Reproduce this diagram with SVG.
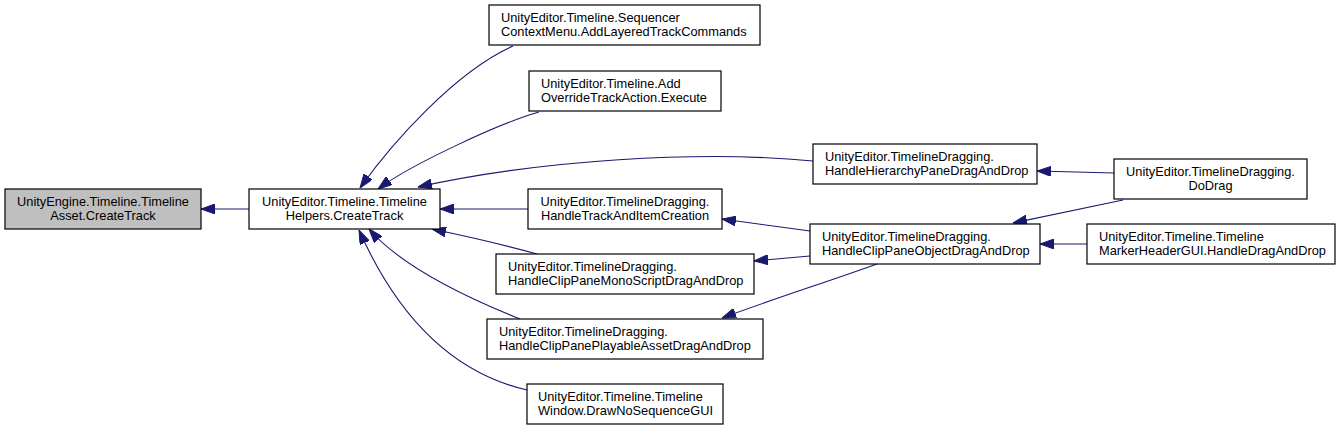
<svg xmlns="http://www.w3.org/2000/svg" width="1340" height="431" viewBox="0 0 1340 431">
<style>
.node rect{fill:#ffffff;stroke:#000000;stroke-width:1.2}
.node.root rect{fill:#bfbfbf}
.node text{font-family:"Liberation Sans",Arial,sans-serif;font-size:12.8px;fill:#000000}
.c{text-anchor:middle}
.l{text-anchor:start}
#edges path{fill:none;stroke:#191970;stroke-width:1.1;marker-end:url(#arr)}
</style>
<defs>
<marker id="arr" viewBox="0 0 14 10" refX="14" refY="5" markerWidth="14" markerHeight="10" markerUnits="userSpaceOnUse" orient="auto">
<path d="M0,0 L14,5 L0,10 Z" fill="#191970" stroke="#191970" stroke-width="1"/>
</marker>
</defs>
<rect x="0" y="0" width="1340" height="431" fill="#ffffff"/>
<g id="edges">
<path d="M249,209 L201,209"/>
<path d="M513,46 C455,72 392,143 360,188"/>
<path d="M539,112 C500,123 410,165 378,189"/>
<path d="M813,161 C700,150 540,160 418,187"/>
<path d="M528,209 L440,209"/>
<path d="M537,254 C505,245 470,237 432,229"/>
<path d="M520,319 C460,295 400,265 369,229"/>
<path d="M527,390 C440,370 390,300 359,230"/>
<path d="M1114,173 L1037,171"/>
<path d="M1123,200 L1013,223"/>
<path d="M1087,244 L1040,244"/>
<path d="M810,231 C780,227 750,223 722,219"/>
<path d="M810,256 L754,261"/>
<path d="M877,264 C830,281 770,300 722,318"/>
</g>
<g id="n_asset" class="node root">
<rect x="5" y="189" width="196" height="40"/>
<text class="c" x="103" y="205.5">UnityEngine.Timeline.Timeline</text>
<text class="c" x="103" y="219.5">Asset.CreateTrack</text>
</g>
<g id="n_helpers" class="node">
<rect x="249" y="189" width="191" height="40"/>
<text class="c" x="344.5" y="205.5">UnityEditor.Timeline.Timeline</text>
<text class="c" x="344.5" y="219.5">Helpers.CreateTrack</text>
</g>
<g id="n_sequencer" class="node">
<rect x="489" y="5" width="271" height="40"/>
<text class="l" x="501" y="21.5">UnityEditor.Timeline.Sequencer</text>
<text class="l" x="501" y="35.5">ContextMenu.AddLayeredTrackCommands</text>
</g>
<g id="n_addoverride" class="node">
<rect x="529" y="71" width="192" height="40"/>
<text class="l" x="541" y="87.5">UnityEditor.Timeline.Add</text>
<text class="l" x="541" y="101.5">OverrideTrackAction.Execute</text>
</g>
<g id="n_trackitem" class="node">
<rect x="528" y="189" width="194" height="40"/>
<text class="c" x="625" y="205.5">UnityEditor.TimelineDragging.</text>
<text class="c" x="625" y="219.5">HandleTrackAndItemCreation</text>
</g>
<g id="n_monoscript" class="node">
<rect x="496" y="254" width="258" height="40"/>
<text class="l" x="508" y="270.5">UnityEditor.TimelineDragging.</text>
<text class="l" x="508" y="284.5">HandleClipPaneMonoScriptDragAndDrop</text>
</g>
<g id="n_playable" class="node">
<rect x="487" y="319" width="276" height="40"/>
<text class="l" x="499" y="335.5">UnityEditor.TimelineDragging.</text>
<text class="l" x="499" y="349.5">HandleClipPanePlayableAssetDragAndDrop</text>
</g>
<g id="n_window" class="node">
<rect x="527" y="384" width="196" height="40"/>
<text class="l" x="538" y="400.5">UnityEditor.Timeline.Timeline</text>
<text class="l" x="538" y="414.5">Window.DrawNoSequenceGUI</text>
</g>
<g id="n_hierarchy" class="node">
<rect x="813" y="144" width="224" height="40"/>
<text class="l" x="825" y="160.5">UnityEditor.TimelineDragging.</text>
<text class="l" x="825" y="174.5">HandleHierarchyPaneDragAndDrop</text>
</g>
<g id="n_dodrag" class="node">
<rect x="1114" y="159" width="193" height="40"/>
<text class="c" x="1210.5" y="175.5">UnityEditor.TimelineDragging.</text>
<text class="c" x="1210.5" y="189.5">DoDrag</text>
</g>
<g id="n_clipobject" class="node">
<rect x="810" y="224" width="230" height="40"/>
<text class="l" x="822" y="240.5">UnityEditor.TimelineDragging.</text>
<text class="l" x="822" y="254.5">HandleClipPaneObjectDragAndDrop</text>
</g>
<g id="n_marker" class="node">
<rect x="1087" y="224" width="248" height="40"/>
<text class="l" x="1099" y="240.5">UnityEditor.Timeline.Timeline</text>
<text class="l" x="1099" y="254.5">MarkerHeaderGUI.HandleDragAndDrop</text>
</g>
</svg>
